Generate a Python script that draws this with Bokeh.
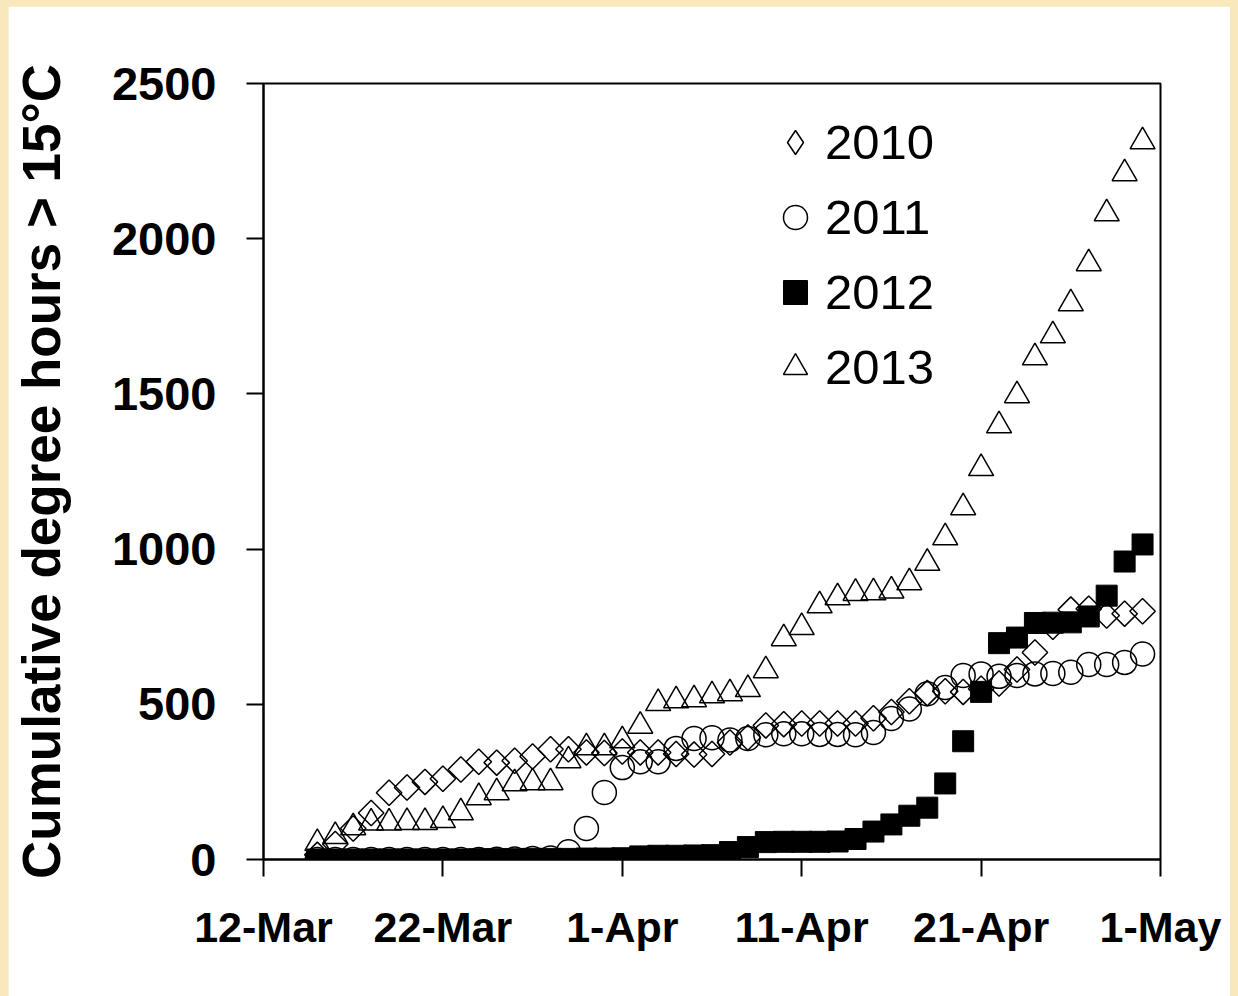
import math
import pandas as pd
from bokeh.plotting import figure
from bokeh.layouts import column
from bokeh.models import Range1d, FixedTicker, Legend, LegendItem
from bokeh.embed import file_html
from bokeh.resources import INLINE

# ---- data ----
dates = pd.date_range("2013-03-15", "2013-04-30")          # one point per day
origin = pd.Timestamp("2013-03-12")
tick_labels = ["12-Mar", "22-Mar", "1-Apr", "11-Apr", "21-Apr", "1-May"]
tick_days = [0, 10, 20, 30, 40, 50]
y_ticks = [0, 500, 1000, 1500, 2000, 2500]

y2010 = [15, 50, 100, 150, 215, 232, 250, 260, 290, 315, 312, 318, 332, 355, 355, 345, 343,
         348, 345, 345, 340, 338, 340, 377, 393, 432, 436, 438, 438, 438, 438, 455, 475, 510,
         536, 542, 540, 550, 567, 612, 667, 750, 805, 808, 786, 792, 800]
y2011 = [0, 0, 0, 0, 0, 0, 0, 0, 0, 0, 1, 2, 3, 5, 25, 100, 216,
         296, 315, 315, 358, 390, 392, 385, 390, 402, 405, 405, 403, 403, 402, 409, 454, 485,
         534, 554, 593, 598, 590, 593, 598, 599, 603, 628, 628, 635, 662]
y2012 = [0, 0, 0, 0, 0, 0, 0, 0, 0, 1, 1, 1, 2, 2, 2, 3, 3,
         4, 10, 12, 12, 13, 14, 24, 40, 56, 57, 57, 57, 58, 66, 90, 113, 141,
         167, 245, 381, 540, 697, 715, 762, 763, 764, 783, 850, 960, 1015]
y2013 = [52, 75, 103, 118, 118, 120, 120, 126, 151, 200, 216, 245, 248, 248, 319, 361, 361,
         383, 430, 503, 512, 515, 528, 535, 548, 609, 712, 748, 818, 844, 858, 860, 866, 892,
         955, 1037, 1134, 1260, 1398, 1495, 1617, 1688, 1791, 1920, 2081, 2210, 2313]

x = [(d - origin).days for d in dates]

FONT = "Liberation Sans"
BEIGE = "#F9E8BC"

p = figure(width=1222, height=990, output_backend="svg", toolbar_location=None,
           x_range=Range1d(0, 50), y_range=Range1d(0, 2500),
           min_border_left=255, min_border_right=70, min_border_top=77, min_border_bottom=137)
p.background_fill_color = "white"
p.border_fill_color = "white"
p.outline_line_color = "black"
p.outline_line_width = 2
p.xgrid.visible = False
p.ygrid.visible = False

r10 = p.scatter(x, y2010, marker="square", angle=math.pi / 4, size=18, fill_alpha=0,
                line_color="black", line_width=1.5)
r11 = p.scatter(x, y2011, marker="circle", size=24, fill_alpha=0, line_color="black", line_width=1.5)
r12 = p.scatter(x, y2012, marker="square", size=21, fill_color="black", line_color="black", line_width=1)
r13 = p.scatter(x, y2013, marker="triangle", size=25, fill_alpha=0, line_color="black", line_width=1.5)
# legend key for the diamonds (legend keys are not rotated); NaN point is not drawn in the plot
k10 = p.scatter(x=[float("nan")], y=[float("nan")], marker="diamond", fill_alpha=0,
                line_color="black", line_width=1.5)

# axes
p.xaxis.ticker = FixedTicker(ticks=tick_days)
p.xaxis.major_label_overrides = {d: lab for d, lab in zip(tick_days, tick_labels)}
p.yaxis.ticker = FixedTicker(ticks=y_ticks)
for ax in (p.xaxis, p.yaxis):
    ax.axis_line_width = 2
    ax.axis_line_color = "black"
    ax.major_tick_line_width = 2
    ax.major_tick_line_color = "black"
    ax.major_tick_out = 17
    ax.major_tick_in = 0
    ax.minor_tick_line_color = None
    ax.major_label_text_font = FONT
    ax.major_label_text_font_style = "bold"
    ax.major_label_text_color = "black"
p.xaxis.major_label_text_font_size = "43px"
p.yaxis.major_label_text_font_size = "47px"
p.xaxis.major_label_standoff = 26
p.yaxis.major_label_standoff = 30
p.yaxis.axis_label = "Cumulative degree hours > 15°C"
p.yaxis.axis_label_text_font = FONT
p.yaxis.axis_label_text_font_style = "bold"
p.yaxis.axis_label_text_font_size = "53px"
p.yaxis.axis_label_text_color = "black"
p.yaxis.axis_label_standoff = 38

legend = Legend(items=[LegendItem(label="2010", renderers=[k10]),
                       LegendItem(label="2011", renderers=[r11]),
                       LegendItem(label="2012", renderers=[r12]),
                       LegendItem(label="2013", renderers=[r13])],
                location=(502, 462), padding=0, margin=0, spacing=15,
                glyph_width=60, glyph_height=60, label_height=60, label_standoff=0,
                label_text_font=FONT, label_text_font_size="49px", label_text_color="black",
                border_line_color=None, background_fill_alpha=0)
p.add_layout(legend, "center")

page = column(p, styles={"background-color": BEIGE, "padding": "6px 8px 0px 8px"})

open("out.html", "w").write(file_html(page, INLINE))
